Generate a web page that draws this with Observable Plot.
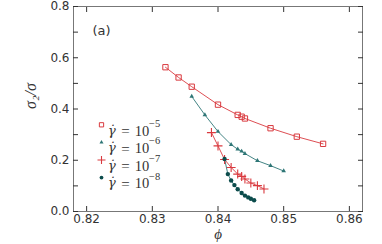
<!DOCTYPE html>
<html><head><meta charset="utf-8">
<script src="https://cdn.jsdelivr.net/npm/d3@7"></script>
<script src="https://cdn.jsdelivr.net/npm/@observablehq/plot@0.6"></script>
<style>body{margin:0;background:#fff}</style>
</head><body><div id="chart"></div>
<script>
const phi5 = [0.832,0.834,0.836,0.840,0.843,0.8436,0.8441,0.848,0.852,0.856];
const r5   = [0.563,0.523,0.487,0.417,0.377,0.370,0.363,0.325,0.292,0.264];
const phi6 = [0.836,0.838,0.840,0.842,0.843,0.8436,0.8441,0.846,0.848,0.850];
const r6   = [0.449,0.377,0.312,0.261,0.243,0.235,0.226,0.198,0.179,0.158];
const phi7 = [0.839,0.840,0.841,0.842,0.843,0.8436,0.8441,0.845,0.846,0.847];
const r7   = [0.308,0.256,0.203,0.172,0.146,0.137,0.127,0.111,0.101,0.088];
const phi8 = [0.841,0.8415,0.842,0.8425,0.843,0.8436,0.8441,0.8446,0.845,0.8455];
const r8   = [0.205,0.146,0.121,0.103,0.087,0.072,0.062,0.055,0.050,0.044];
const xTicks = [0.82,0.83,0.84,0.85,0.86];
const yMinor = [0,0.1,0.2,0.3,0.4,0.5,0.6,0.7,0.8];
const yLabels = [0,0.2,0.4,0.6,0.8];
const legendExponents = ["−5","−6","−7","−8"];

const RED = "#d93a3f", TEAL = "#2e7676", DTEAL = "#0c4c4c";
const rows = (xs, ys) => xs.map((x,i)=>({phi:x, r:ys[i]}));
const d5 = rows(phi5,r5), d6 = rows(phi6,r6), d7 = rows(phi7,r7), d8 = rows(phi8,r8);

const styles = [
  {symbol:"square", fill:"none", stroke:RED, r:3, strokeWidth:1},
  {symbol:"triangle", fill:TEAL, stroke:"none", r:1.7},
  {symbol:"plus", fill:"none", stroke:RED, r:3, strokeWidth:1.1},
  {symbol:"circle", fill:DTEAL, stroke:"none", r:2.2}
];
const legendStyles = [
  {...styles[0], r:2.4},
  {...styles[1], r:1.5},
  {...styles[2], r:2.7},
  {...styles[3], r:1.9}
];
const serif = "Liberation Serif";
const legendMarks = [];
legendExponents.forEach((ex,i)=>{
  const dy = 118.3 + i*17.6;
  legendMarks.push(Plot.dot([ex], {frameAnchor:"top-left", dx:28, dy, ...legendStyles[i]}));
  legendMarks.push(Plot.text(["γ̇"], {text:d=>d, frameAnchor:"top-left", dx:34.5, dy:dy+0.5, textAnchor:"start", fontFamily:"DejaVu Serif", fontStyle:"italic", fontSize:13, fill:"#333"}));
  legendMarks.push(Plot.text(["="], {text:d=>d, frameAnchor:"top-left", dx:52, dy:dy+0.5, textAnchor:"middle", fontFamily:serif, fontSize:15, fill:"#333"}));
  legendMarks.push(Plot.text(["10"], {text:d=>d, frameAnchor:"top-left", dx:61.3, dy:dy+0.5, textAnchor:"start", fontFamily:serif, fontSize:14.5, fill:"#333"}));
  legendMarks.push(Plot.text([ex], {text:d=>d, frameAnchor:"top-left", dx:75.5, dy:dy-5.5, textAnchor:"start", fontFamily:serif, fontSize:10.5, fill:"#333"}));
});

const chart = Plot.plot({
  width: 382, height: 244,
  marginLeft: 73, marginRight: 20, marginTop: 6, marginBottom: 33,
  style: {fontFamily:"DejaVu Sans", fontSize:"12px", color:"#333", background:"#fff"},
  x: {domain:[0.818,0.862]},
  y: {domain:[0,0.8]},
  marks: [
    Plot.frame({stroke:"#777", strokeWidth:1}),
    Plot.axisX({anchor:"bottom", ticks:xTicks, tickSize:5, dy:-5, tickFormat:()=>"", label:null, stroke:"#333"}),
    Plot.axisX({anchor:"top", ticks:xTicks, tickSize:5, dy:5, tickFormat:()=>"", label:null, stroke:"#333"}),
    Plot.axisX({anchor:"bottom", ticks:xTicks, tickSize:0, tickPadding:3, tickFormat:d3.format(".2f"), label:null, fill:"#333"}),
    Plot.axisY({anchor:"left", ticks:yMinor, tickSize:5, dx:5, tickFormat:()=>"", label:null, stroke:"#333"}),
    Plot.axisY({anchor:"right", ticks:yMinor, tickSize:5, dx:-5, tickFormat:()=>"", label:null, stroke:"#333"}),
    Plot.axisY({anchor:"left", ticks:yLabels, tickSize:0, tickPadding:4, tickFormat:d3.format(".1f"), label:null, fill:"#333"}),
    Plot.line(d5, {x:"phi", y:"r", stroke:RED, strokeWidth:0.9}),
    Plot.line(d6, {x:"phi", y:"r", stroke:TEAL, strokeWidth:0.9}),
    Plot.line(d7, {x:"phi", y:"r", stroke:RED, strokeWidth:0.9}),
    Plot.line(d8, {x:"phi", y:"r", stroke:TEAL, strokeWidth:0.9}),
    Plot.dot(d5, {x:"phi", y:"r", ...styles[0]}),
    Plot.dot(d6, {x:"phi", y:"r", ...styles[1]}),
    Plot.dot(d7, {x:"phi", y:"r", ...styles[2]}),
    Plot.dot(d8, {x:"phi", y:"r", ...styles[3]}),
    ...legendMarks,
    Plot.text(["(a)"], {text:d=>d, frameAnchor:"top-left", dx:19, dy:19, textAnchor:"start", fontSize:13, fill:"#333"}),
    Plot.text(["σ₂/σ"], {text:d=>d, frameAnchor:"left", dx:-43, rotate:-90, fontFamily:serif, fontStyle:"italic", fontSize:16, fill:"#333"}),
    Plot.text(["ϕ"], {text:d=>d, frameAnchor:"bottom", dy:27, fontFamily:serif, fontStyle:"italic", fontSize:15, fill:"#333"})
  ]
});
document.getElementById("chart").appendChild(chart);
</script></body></html>
